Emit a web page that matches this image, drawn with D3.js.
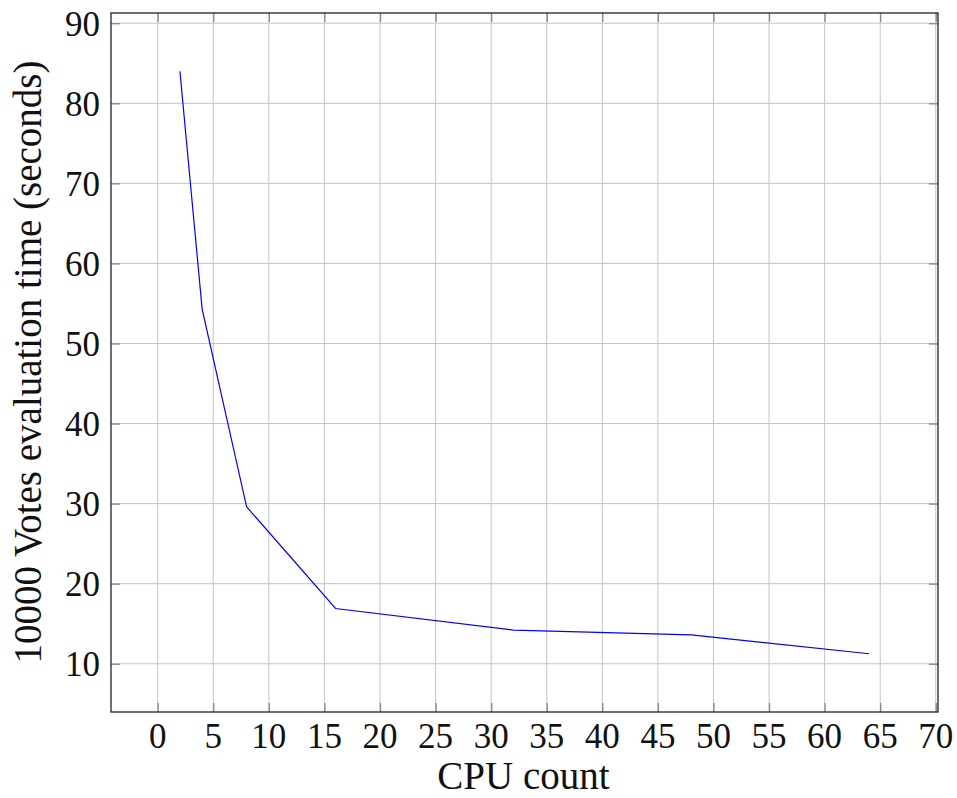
<!DOCTYPE html>
<html><head><meta charset="utf-8">
<script src="https://cdn.jsdelivr.net/npm/d3@7"></script>
<style>body{margin:0;background:#fff}svg{display:block}</style>
</head><body>
<script>
const cpuCounts = [2, 4, 8, 16, 32, 48, 64];
const evalSeconds = [84, 54.3, 29.6, 16.9, 14.2, 13.6, 11.25];
const xTickValues = [0,5,10,15,20,25,30,35,40,45,50,55,60,65,70];
const yTickValues = [10,20,30,40,50,60,70,80,90];
const xLabel = "CPU count";
const yLabel = "10000 Votes evaluation time (seconds)";

const W = 957, H = 798;
const m = {left:111, right:957-938, top:13, bottom:798-712};
const svg = d3.select("body").append("svg").attr("width",W).attr("height",H);
const font = "'Liberation Serif', 'DejaVu Serif', serif";

const xmin = d3.min(cpuCounts), xmax = d3.max(cpuCounts);
const ymin = d3.min(evalSeconds), ymax = d3.max(evalSeconds);
const ex = (xmax-xmin)*0.1, ey = (ymax-ymin)*0.1;
const x = d3.scaleLinear().domain([xmin-ex, xmax+ex]).range([m.left, W-m.right]);
const y = d3.scaleLinear().domain([ymin-ey, ymax+ey]).range([H-m.bottom, m.top]);

const g = svg.append("g");
// grid
g.selectAll(".vg").data(xTickValues).enter().append("line")
  .attr("x1",d=>x(d)).attr("x2",d=>x(d)).attr("y1",y.range()[0]).attr("y2",y.range()[1])
  .attr("stroke","#c4c4c4").attr("stroke-width",1);
g.selectAll(".hg").data(yTickValues).enter().append("line")
  .attr("y1",d=>y(d)).attr("y2",d=>y(d)).attr("x1",x.range()[0]).attr("x2",x.range()[1])
  .attr("stroke","#c4c4c4").attr("stroke-width",1);

// inner ticks
const tl = 9, tc = "#888";
const xb = d3.axisBottom(x).tickValues(xTickValues).tickSizeInner(-tl).tickSizeOuter(0).tickFormat("");
const xt = d3.axisTop(x).tickValues(xTickValues).tickSizeInner(-tl).tickSizeOuter(0).tickFormat("");
const yl = d3.axisLeft(y).tickValues(yTickValues).tickSizeInner(-tl).tickSizeOuter(0).tickFormat("");
const yr = d3.axisRight(y).tickValues(yTickValues).tickSizeInner(-tl).tickSizeOuter(0).tickFormat("");
[[xb,`translate(0,${H-m.bottom})`],[xt,`translate(0,${m.top})`],[yl,`translate(${m.left},0)`],[yr,`translate(${W-m.right},0)`]].forEach(([a,t])=>{
  const ag = svg.append("g").attr("transform",t).call(a);
  ag.select(".domain").remove();
  ag.selectAll(".tick line").attr("stroke",tc).attr("stroke-width",1.3);
});

// line
const line = d3.line().x((d,i)=>x(cpuCounts[i])).y(d=>y(d));
svg.append("path").datum(evalSeconds).attr("d",line).attr("fill","none")
  .attr("stroke","#0000ff").attr("stroke-width",1.2);

// frame
svg.append("rect").attr("x",m.left).attr("y",m.top).attr("width",W-m.right-m.left).attr("height",H-m.bottom-m.top)
  .attr("fill","none").attr("stroke","#222").attr("stroke-width",1.3);

// tick labels
svg.selectAll(".xl").data(xTickValues).enter().append("text")
  .attr("x",d=>x(d)).attr("y",H-m.bottom+36).attr("text-anchor","middle")
  .attr("font-family",font).attr("font-size",35).attr("fill","#111").text(d=>d);
svg.selectAll(".yl").data(yTickValues).enter().append("text")
  .attr("x",m.left-11).attr("y",d=>y(d)).attr("dy","0.36em").attr("text-anchor","end")
  .attr("font-family",font).attr("font-size",35).attr("fill","#111").text(d=>d);

svg.append("text").attr("x",(m.left+W-m.right)/2 - 1).attr("y",789).attr("text-anchor","middle")
  .attr("font-family",font).attr("font-size",39).attr("fill","#111").text(xLabel);
svg.append("text").attr("transform",`translate(41,362) rotate(-90)`).attr("text-anchor","middle")
  .attr("font-family",font).attr("font-size",39).attr("fill","#111").text(yLabel);
</script>
</body></html>
